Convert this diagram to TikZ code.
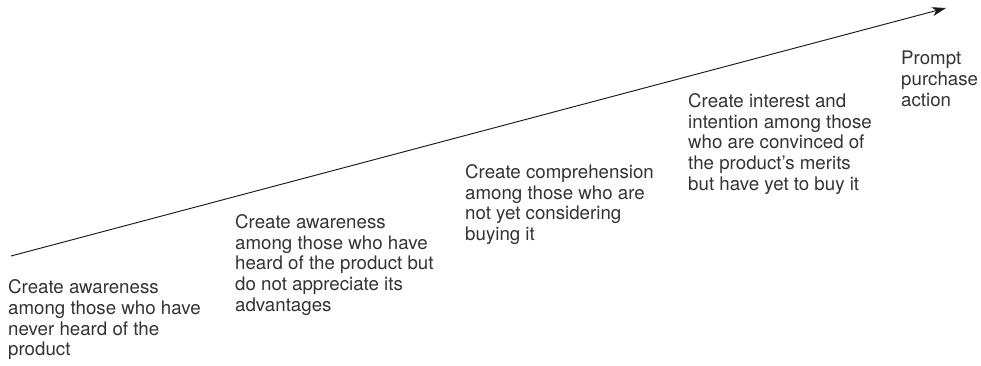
\documentclass[tikz,border=0pt]{standalone}
\usepackage{fontspec}
\setmainfont{TeX Gyre Heros}
\usepackage{tikz}
\usetikzlibrary{arrows.meta}
\definecolor{stagegrey}{HTML}{333333}
\definecolor{arrowink}{HTML}{1A1A1A}
\tikzset{
  stagetext/.style={anchor=north west, inner sep=0pt, align=left, text=stagegrey,
                    font=\fontsize{18.7}{20.7}\selectfont},
  growarrow/.style={line width=0.95pt, draw=arrowink,
                    -{Stealth[length=14pt, width=9pt, inset=4pt]}}
}
\begin{document}
\begin{tikzpicture}[x=1pt, y=-1pt]
  \useasboundingbox (0,0) rectangle (981,366);
  \coordinate (start) at (11,256);
  \coordinate (tip) at (946,8);
  \draw[growarrow] (start) -- (tip);
  \node[stagetext] (s1) at (8,279.5) {Create awareness\\among those who have\\never heard of the\\product};
  \node[stagetext] (s2) at (235,214.2) {Create awareness\\among those who have\\heard of the product but\\do not appreciate its\\advantages};
  \node[stagetext] (s3) at (465,164.2) {Create comprehension\\among those who are\\not yet considering\\buying it};
  \node[stagetext] (s4) at (688,93.2) {Create interest and\\intention among those\\who are convinced of\\the product’s merits\\but have yet to buy it};
  \node[stagetext] (s5) at (901,51) {Prompt\\purchase\\action};
\end{tikzpicture}
\end{document}
